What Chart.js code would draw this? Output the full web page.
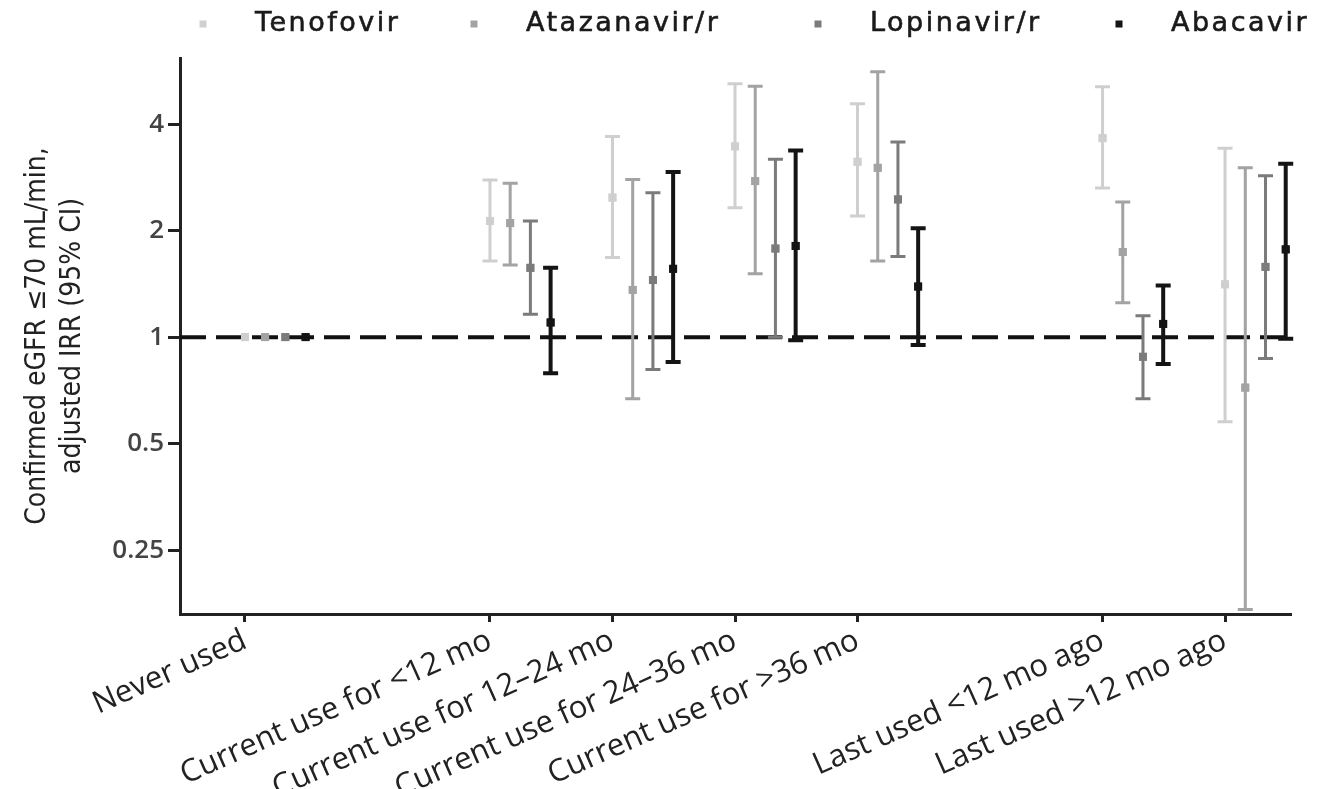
<!DOCTYPE html>
<html><head><meta charset="utf-8">
<script src="https://cdn.jsdelivr.net/npm/chart.js@4/dist/chart.umd.min.js"></script>
<style>html,body{margin:0;padding:0;background:#fff;overflow:hidden}#wrap{width:1317px;height:789px;position:relative}</style>
</head><body><div id="wrap"><canvas id="c"></canvas></div>
<script>
// Categories (null = empty slot on the x axis)
const categories = ['Never used', null, 'Current use for <12 mo', 'Current use for 12\u201324 mo', 'Current use for 24\u201336 mo', 'Current use for >36 mo', null, 'Last used <12 mo ago', 'Last used >12 mo ago'];
const seriesNames = ['Tenofovir', 'Atazanavir/r', 'Lopinavir/r', 'Abacavir'];
const yTickValues = [0.25, 0.5, 1, 2, 4];

// Values per non-empty category, in order
const tenofovirIRR  = [1, 2.13, 2.48, 3.46, 3.13, 3.65, 1.41];
const tenofovirLow  = [null, 1.64, 1.68, 2.32, 2.20, 2.64, 0.577];
const tenofovirHigh = [null, 2.78, 3.69, 5.20, 4.57, 5.10, 3.42];

const atazanavirIRR  = [1, 2.10, 1.36, 2.76, 3.01, 1.74, 0.72];
const atazanavirLow  = [null, 1.60, 0.67, 1.51, 1.64, 1.25, 0.17];
const atazanavirHigh = [null, 2.72, 2.79, 5.12, 5.62, 2.41, 3.01];

const lopinavirIRR  = [1, 1.57, 1.45, 1.78, 2.45, 0.88, 1.58];
const lopinavirLow  = [null, 1.16, 0.81, 1.00, 1.69, 0.67, 0.87];
const lopinavirHigh = [null, 2.13, 2.56, 3.18, 3.56, 1.15, 2.86];

const abacavirIRR  = [1, 1.10, 1.56, 1.81, 1.39, 1.09, 1.77];
const abacavirLow  = [null, 0.79, 0.85, 0.98, 0.95, 0.84, 0.99];
const abacavirHigh = [null, 1.57, 2.93, 3.37, 2.03, 1.40, 3.09];

const referenceIRR = 1;

// ---- styling / layout ----
const colors = ['#cfcfcf', '#a3a3a3', '#7b7b7b', '#141414'];
const barWidths = [3, 3, 3, 4];
const seriesOffset = [0, 0.165, 0.33, 0.495];
const xMin = -0.53, xMax = 8.53;
const yMin = 0.165, yMax = 6.15;

const catPositions = categories.map((c, i) => c ? i : null).filter(v => v !== null);

const allVals = [tenofovirIRR, atazanavirIRR, lopinavirIRR, abacavirIRR];
const allLow = [tenofovirLow, atazanavirLow, lopinavirLow, abacavirLow];
const allHigh = [tenofovirHigh, atazanavirHigh, lopinavirHigh, abacavirHigh];

const datasets = seriesNames.map((name, s) => ({
  type: 'scatter',
  label: name,
  data: allVals[s].map((v, j) => ({ x: catPositions[j] + seriesOffset[s], y: v })),
  errLow: allLow[s],
  errHigh: allHigh[s],
  errWidth: barWidths[s],
  backgroundColor: colors[s],
  borderColor: colors[s],
  borderWidth: 0,
  pointStyle: 'rect',
  pointRadius: 5.5,
  pointHoverRadius: 5.5,
  order: 1
}));
datasets.push({
  type: 'line',
  label: 'ref',
  data: [{ x: xMin, y: referenceIRR }, { x: xMax, y: referenceIRR }],
  borderColor: '#111',
  borderWidth: 4,
  borderDash: [26, 10],
  pointRadius: 0,
  fill: false,
  order: 10
});

const errorBarPlugin = {
  id: 'errbars',
  afterDatasetsDraw(chart) {
    const ctx = chart.ctx, xs = chart.scales.x, ys = chart.scales.y;
    const cap = 7.5;
    chart.data.datasets.forEach((ds, i) => {
      if (!ds.errLow) return;
      ctx.save();
      ctx.strokeStyle = ds.borderColor;
      ctx.lineWidth = ds.errWidth;
      ctx.lineCap = 'butt';
      ds.data.forEach((p, j) => {
        const lo = ds.errLow[j], hi = ds.errHigh[j];
        if (lo == null || hi == null) return;
        const x = xs.getPixelForValue(p.x);
        const yl = ys.getPixelForValue(lo), yh = ys.getPixelForValue(hi);
        ctx.beginPath();
        ctx.moveTo(x, yl); ctx.lineTo(x, yh);
        ctx.moveTo(x - cap, yl); ctx.lineTo(x + cap, yl);
        ctx.moveTo(x - cap, yh); ctx.lineTo(x + cap, yh);
        ctx.stroke();
      });
      ds.data.forEach(p => {
        const x = xs.getPixelForValue(p.x), y = ys.getPixelForValue(p.y);
        ctx.fillStyle = ds.backgroundColor;
        ctx.fillRect(x - 4, y - 4, 8, 8);
      });
      ctx.restore();
    });
  }
};

const legendMarkerX = [203, 474, 818, 1119];
const legendPlugin = {
  id: 'customLegend',
  afterDraw(chart) {
    const ctx = chart.ctx;
    ctx.save();
    ctx.font = '27px "DejaVu Sans"';
    ctx.letterSpacing = '2.5px';
    ctx.textBaseline = 'middle';
    seriesNames.forEach((name, s) => {
      const mx = legendMarkerX[s], my = 24;
      ctx.fillStyle = colors[s];
      ctx.fillRect(mx - 3.5, my - 3.5, 7, 7);
      ctx.fillStyle = '#1a1a1a';
      ctx.strokeStyle = '#1a1a1a';
      ctx.lineWidth = 0.6;
      ctx.fillText(name, mx + 52, my);
      ctx.strokeText(name, mx + 52, my);
    });
    ctx.restore();
  }
};

Chart.defaults.animation = false;
new Chart(document.getElementById('c'), {
  data: { datasets },
  options: {
    responsive: true,
    maintainAspectRatio: false,
    animation: false,
    layout: { padding: { top: 58, right: 27, left: 0, bottom: 0 } },
    plugins: { legend: { display: false }, tooltip: { enabled: false } },
    scales: {
      x: {
        type: 'linear', min: xMin, max: xMax,
        afterBuildTicks: s => { s.ticks = catPositions.map(v => ({ value: v })); },
        ticks: {
          autoSkip: false,
          callback: v => categories[Math.round(v)] || '',
          minRotation: 24, maxRotation: 24,
          font: { family: 'Open Sans', size: 31 },
          color: '#222', padding: 0
        },
        grid: { drawOnChartArea: false, drawTicks: true, tickLength: 8, color: '#222', lineWidth: 3 },
        border: { display: true, color: '#222', width: 3 },
        afterFit: s => { s.height = 789 - 614; }
      },
      y: {
        type: 'logarithmic', min: yMin, max: yMax,
        afterBuildTicks: s => { s.ticks = yTickValues.map(v => ({ value: v })); },
        ticks: {
          callback: v => String(v),
          font: { family: 'Open Sans', size: 26, weight: '600' },
          color: '#444', padding: 4
        },
        grid: { drawOnChartArea: false, drawTicks: true, tickLength: 12, color: '#222', lineWidth: 3 },
        border: { display: true, color: '#222', width: 3 },
        title: {
          display: true,
          text: ['Confirmed eGFR \u226470 mL/min,', 'adjusted IRR (95% CI)'],
          font: { family: '"Liberation Sans Narrow", "DejaVu Sans Condensed", sans-serif', size: 28, lineHeight: 1.25 },
          color: '#222',
          padding: { top: 20, bottom: 0 }
        },
        afterFit: s => { s.width = 180; }
      }
    }
  },
  plugins: [errorBarPlugin, legendPlugin]
});
</script>
</body></html>
